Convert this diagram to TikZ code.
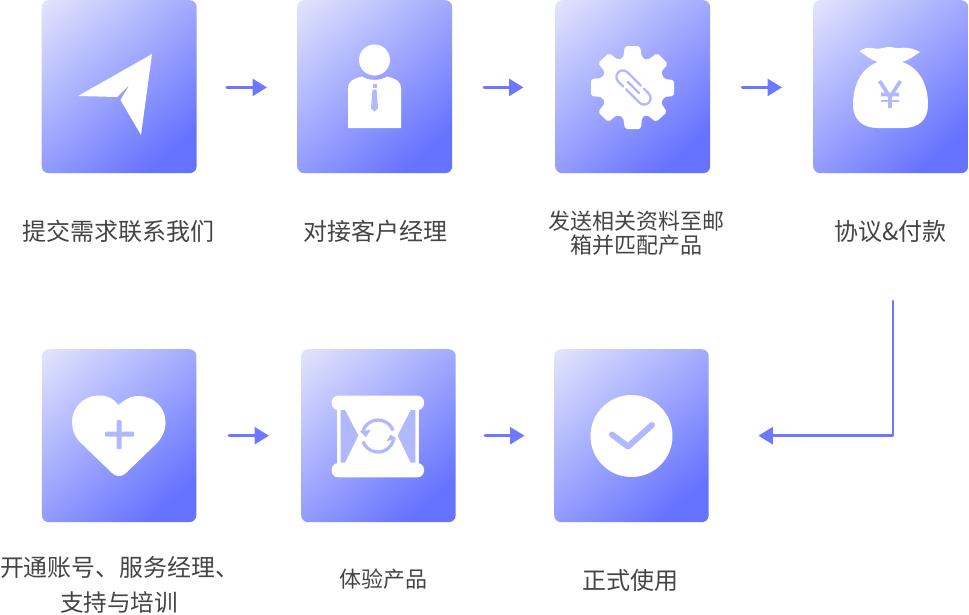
\documentclass[tikz,border=0pt]{standalone}
\usepackage{fontspec}
\setmainfont{Noto Sans CJK SC}
\usetikzlibrary{arrows.meta}
\definecolor{flowc}{HTML}{6C79FF}
\definecolor{txt}{HTML}{444444}
\definecolor{glyph}{HTML}{B1B8FE}
\definecolor{cardA}{HTML}{6673FF}
\definecolor{cardB}{HTML}{DFE2FC}
\pgfdeclareverticalshading{cardgrad}{100bp}{color(0bp)=(cardA); color(25bp)=(cardA); color(83.5bp)=(cardB); color(100bp)=(cardB)}
\tikzset{
 x=1pt,y=-1pt,
 card/.style={rectangle,rounded corners=7pt,minimum width=155pt,minimum height=173pt,inner sep=0pt,
   shade,shading=cardgrad,shading angle=42,anchor=north west},
 flow/.style={draw=flowc,line width=2.8pt,line cap=round,line join=round,-{Triangle[length=14.5pt,width=17pt,fill=flowc]}},
 lab/.style={text=txt,font=\fontsize{24}{26}\selectfont,align=center,inner sep=0pt,anchor=center},
 ic/.style={fill=white,draw=none},
 gl/.style={fill=glyph,draw=none},
 gls/.style={draw=glyph,line cap=round,line join=round,fill=none}
}
\begin{document}
\begin{tikzpicture}
\useasboundingbox (0,0) rectangle (969,614);
\node[card] (n1) at (41.5,0) {};
\node[card] (n2) at (297,0) {};
\node[card] (n3) at (555,0) {};
\node[card] (n4) at (813,0) {};
\node[card,minimum width=154.5pt] (n5) at (41.7,349) {};
\node[card,minimum width=154.5pt] (n6) at (301,349) {};
\node[card,minimum width=154.5pt] (n7) at (554,349) {};
% plane
\fill[ic] (78,96) -- (152,54) -- (141,135) -- (120.5,100) -- (130,84) -- (117,97) -- cycle;
% person
\fill[ic] (374.5,60) circle (15.5);
\fill[ic] (348,128) -- (348,88) .. controls (348,82) and (352,79) .. (362,76.5) .. controls (368,81) and (381,81) .. (387,76.5) .. controls (397,79) and (401,82) .. (401,88) -- (401,128) -- cycle;
\fill[gl] (372.5,84) rectangle (376.5,88);
\fill[gl] (372.5,89.5) -- (376.5,89.5) -- (378,108) -- (374.5,111.5) -- (371,108) -- cycle;
% gear
\fill[ic,rounded corners=2pt] (625,46) -- (640,46) -- (642,58) -- (648,60) -- (657,53) -- (668,64) -- (661,72) -- (664,79) -- (674,80) -- (674,96) -- (664,97) -- (661,103) -- (667,112) -- (656,122) -- (647,115) -- (642,117) -- (641,129) -- (625,129) -- (623,117) -- (617,115) -- (608,122) -- (598,112) -- (605,103) -- (602,97) -- (591,96) -- (591,79) -- (602,78) -- (605,72) -- (598,63) -- (609,53) -- (618,60) -- (623,58) -- cycle;
\begin{scope}[shift={(633.5,87.5)},rotate=-45]
\draw[gls,line width=2.3pt] (4,-6.5) -- (-15,-6.5) arc (270:90:6.5) -- (-8,6.5);
\draw[gls,line width=2.3pt] (-4,6.5) -- (15,6.5) arc (90:-90:6.5) -- (8,-6.5);
\draw[gls,line width=2.3pt] (-8,0) -- (8,0);
\end{scope}
% bag
\fill[ic] (859.5,51) .. controls (864,48) and (869,47) .. (875,48.5) .. controls (881,50) and (885,46) .. (891,47) .. controls (897,49) and (902,47) .. (908,48) .. controls (912,48.5) and (916,50) .. (920,52) .. controls (914,56) and (909,60) .. (902,62) .. controls (920,68) and (928,85) .. (928,105) .. controls (928,120) and (918,128) .. (904,128) -- (878,128) .. controls (863,128) and (853,120) .. (853,105) .. controls (853,85) and (861,68) .. (878,62) .. controls (871,60) and (865,55) .. (859.5,51) -- cycle;
\draw[gls,line width=3.6pt,line cap=butt] (879.5,81) -- (890,97) -- (900.5,81) (890,97) -- (890,108) (881,94.5) -- (899,94.5);
\draw[gls,line width=2.6pt,line cap=butt] (881,101) -- (899,101);
% heart
\fill[ic] (118.5,405) .. controls (112,397) and (105,395) .. (98,395.5) .. controls (84,396) and (72,407) .. (72,422) .. controls (72,431) and (76,439) .. (82,444) -- (112,473) .. controls (116,477) and (122,477) .. (126,473) -- (156,444) .. controls (162,438) and (165.5,431) .. (165.5,422) .. controls (165.5,407) and (153,396) .. (139,396) .. controls (130,396) and (124,400) .. (118.5,405) -- cycle;
\fill[gl,rounded corners=1pt] (116.5,420) rectangle (121.5,449);
\fill[gl,rounded corners=1pt] (105,431.5) rectangle (134,436.5);
% hourglass
\fill[ic,rounded corners=6.5pt] (331.7,395.7) rectangle (424,410);
\fill[ic,rounded corners=6.5pt] (331.7,463) rectangle (424,477.3);
\fill[ic] (336.7,405) rectangle (419.3,470);
\fill[gl] (340.7,410) -- (345,410) -- (358.3,435.5) -- (345,462.7) -- (340.7,462.7) -- cycle;
\fill[gl] (415.3,410) -- (410.7,410) -- (397.7,435.5) -- (410.7,462.7) -- (415.3,462.7) -- cycle;
\draw[gls,line width=3.2pt,line cap=butt] (362.4,432.7) arc (192:340:16);
\draw[gls,line width=3.2pt,line cap=butt] (393.6,439.3) arc (12:160:16);
\fill[gl] (360,431) -- (370.5,430) -- (366,437) -- cycle;
\fill[gl] (396.7,439) -- (386.7,441) -- (390.7,434.5) -- cycle;
% check
\fill[ic] (631.5,436) circle (41);
\draw[gls,line width=6pt] (612,434.5) -- (628,446.5) -- (652,425);
% labels
\node[lab] (t1) at (119,231) {提交需求联系我们};
\node[lab] (t2) at (375,231) {对接客户经理};
\node[lab,font=\fontsize{22}{23.5}\selectfont] (t3) at (636,233) {发送相关资料至邮\\箱并匹配产品};
\node[lab] (t4) at (890.5,231) {协议\&付款};
\node[lab,font=\fontsize{23.9}{36}\selectfont] (t5a) at (119.5,567.5) {开通账号、服务经理、};
\node[lab,font=\fontsize{23.6}{36}\selectfont] (t5b) at (119,602) {支持与培训};
\node[lab,font=\fontsize{22}{24}\selectfont] (t6) at (383.5,579) {体验产品};
\node[lab] (t7) at (630.5,580.5) {正式使用};
% connectors
\draw[flow] ([xshift=30pt,yshift=-.7pt]n1.east) -- ([xshift=-30pt,yshift=-.7pt]n2.west);
\draw[flow] ([xshift=31.7pt,yshift=-.7pt]n2.east) -- ([xshift=-31.5pt,yshift=-.7pt]n3.west);
\draw[flow] ([xshift=32pt,yshift=-.7pt]n3.east) -- ([xshift=-31pt,yshift=-.7pt]n4.west);
\draw[flow] ([xshift=32.5pt]n5.east) -- ([xshift=-32pt]n6.west);
\draw[flow] ([xshift=29.2pt]n6.east) -- ([xshift=-29.5pt]n7.west);
\coordinate (c4) at (893,301);
\draw[flow] (c4) |- ([xshift=49.5pt]n7.east);
\end{tikzpicture}
\end{document}
